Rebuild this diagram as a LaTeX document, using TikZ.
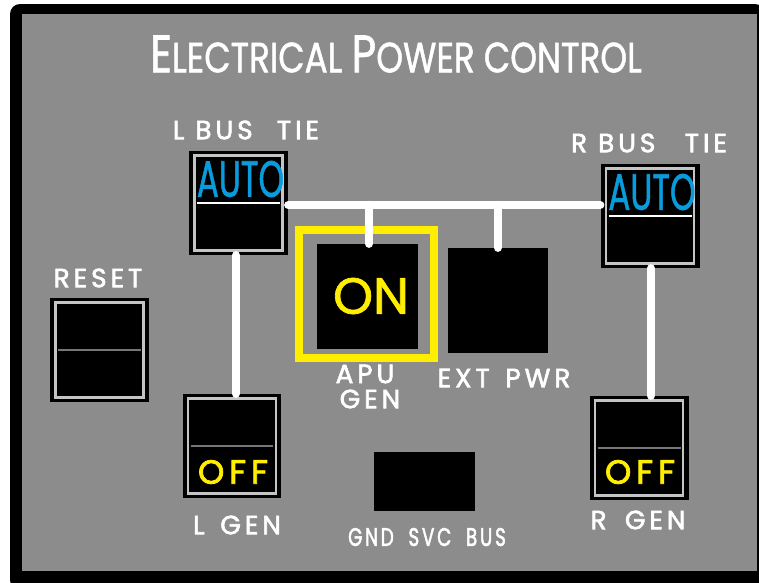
\documentclass[tikz,border=0pt]{standalone}
\usepackage{fontspec}
\setmainfont{Poppins}
\newfontfamily\handfont[FakeBold = 1.4]{Poppins}
\newfontfamily\spacedfont[FakeBold = 2.4, LetterSpace = 15]{Poppins}
\usetikzlibrary{calc}

\definecolor{panelgray}{HTML}{8C8C8C}
\definecolor{autoblue}{HTML}{0A9BDC}
\definecolor{lampyellow}{HTML}{FFEE00}
\definecolor{framegray}{HTML}{C4C4C4}

\tikzset{%
    blackbox/.style = {fill = black, inner sep = 0pt},
    switchbox/.style = {%
        blackbox,
        minimum width = 1.98cm,
        minimum height = 2.08cm,
        path picture = {%
            \draw[framegray, line width = 0.45mm]
                ([shift = {(0.11cm, -0.09cm)}]path picture bounding box.north west) rectangle
                ([shift = {(-0.11cm, 0.09cm)}]path picture bounding box.south east);
            \draw[#1, line width = 0.45mm]
                ([xshift = 0.16cm]path picture bounding box.west) --
                ([xshift = -0.16cm]path picture bounding box.east);
        }
    },
    panellabel/.style = {text = white, font = \spacedfont\fontsize{15}{15}\selectfont, inner sep = 0pt},
    titlelabel/.style = {text = white, font = \handfont\fontsize{24}{24}\selectfont, inner sep = 0pt, xscale = 0.81, transform shape},
    autolabel/.style = {text = autoblue, font = \handfont\fontsize{29}{29}\selectfont, inner sep = 0pt, xscale = 0.64, transform shape},
    offlabel/.style = {text = lampyellow, font = \spacedfont\fontsize{19}{19}\selectfont, inner sep = 0pt},
    wire/.style = {white, line width = 1.7mm, line cap = round}
}

\begin{document}
\begin{tikzpicture}[%
        x = 0.02cm,
        y = -0.02cm
    ]

        \useasboundingbox (0, 0) rectangle (759, 582);

        % Panel with its thick outline.
        \fill[black, rounded corners = 0.2cm] (10, 4) rectangle (765, 590);
        \fill[panelgray] (22, 14) rectangle (757, 571);

        % Bus level and title.
        \coordinate (bus) at (0, 205);
        \node[titlelabel] (title) at (396, 54) {{\fontsize{30}{30}\selectfont E}LECTRICAL {\fontsize{30}{30}\selectfont P}OWER CONTROL};

        % Switches with a lamp window.
        \node[switchbox = white] (ltie) at (238.5, 203) {};
        \node[switchbox = white] (rtie) at (650, 216) {};
        \node[switchbox = framegray!60!black] (reset) at (99.5, 350) {};
        \node[switchbox = framegray!60!black] (lgen) at (232, 446) {};
        \node[switchbox = framegray!60!black] (rgen) at (639, 448) {};

        % Plain black windows.
        \node[blackbox, minimum width = 2.02cm, minimum height = 2.1cm] (apu) at (367.5, 296.5) {};
        \node[blackbox, minimum width = 2cm, minimum height = 2.1cm] (ext) at (498, 300.5) {};
        \node[blackbox, minimum width = 2.02cm, minimum height = 1.18cm] (gnd) at (424.5, 481.5) {};

        % Selection frame round the APU window.
        \draw[lampyellow, line width = 1.6mm] (299, 230) rectangle (434, 358);

        % Wires.
        \begin{scope}[wire]
            \draw (ltie.east |- bus) -- (rtie.west |- bus);
            \draw (apu.north -| 369, 0) -- (369, 0 |- bus);
            \draw (ext.north) -- (ext.north |- bus);
            \draw ([xshift = -0.05cm]ltie.south) -- ([xshift = -0.05cm]ltie.south |- lgen.north);
            \draw ([xshift = 0.02cm]rtie.south) -- ([xshift = 0.02cm]rtie.south |- rgen.north);
        \end{scope}

        % Lamp legends.
        \node[autolabel] (lauto) at (240.5, 179) {AUTO};
        \node[autolabel] (rauto) at (652, 192) {AUTO};
        \node[offlabel] (loff) at (233, 472) {OFF};
        \node[offlabel] (roff) at (640, 472) {OFF};
        \node[text = lampyellow, font = \handfont\fontsize{29}{29}\selectfont, inner sep = 0pt] (apuon) at (371, 296) {ON};

        % Labels for the switches.
        \node[panellabel] (ltielabel) at (246, 130) {L BUS\hspace{0.5em} TIE};
        \node[panellabel] (rtielabel) at (649, 143) {R BUS\hspace{0.7em} TIE};
        \node[panellabel] (resetlabel) at (98, 278) {RESET};
        \node[panellabel] (apulabel) at (365, 374) {APU};
        \node[panellabel] (genlabel) at (370, 399) {GEN};
        \node[panellabel] (extlabel) at (504, 378) {EXT\hspace{0.6em}PWR};
        \node[panellabel] (lgenlabel) at (237, 525) {L\hspace{0.6em}GEN};
        \node[panellabel] (rgenlabel) at (638, 520) {R\hspace{0.7em}GEN};
        \node[panellabel, font = \spacedfont\fontsize{12}{12}\selectfont, xscale = 0.87, yscale = 1.2, transform shape] (gndlabel) at (427, 537) {GND\hspace{0.8em}SVC\hspace{0.8em}BUS};

\end{tikzpicture}
\end{document}
